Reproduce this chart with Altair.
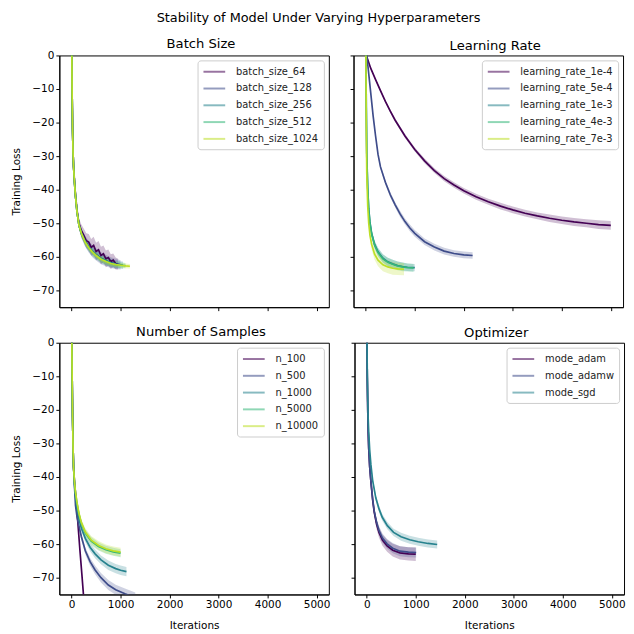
import altair as alt
import pandas as pd

COLORS = ["#440154", "#3e4c8a", "#26828e", "#35b779", "#bddf26"]
X_TICKS = [0, 1000, 2000, 3000, 4000, 5000]
Y_TICKS = [-70, -60, -50, -40, -30, -20, -10, 0]

# ---------------- Batch Size ----------------
BS_NAMES = ["batch_size_64", "batch_size_128", "batch_size_256", "batch_size_512", "batch_size_1024"]
BS64_IT = [0, 10, 20, 30, 40, 60, 80, 110, 150, 200, 250, 300, 350, 400, 450, 500, 550, 600, 650, 700, 750, 800, 850, 900, 950]
BS64_LOSS = [15, -10, -22, -29, -33, -37.5, -41.5, -46, -50, -52.2, -53.6, -55.2, -55.6, -57.2, -56.6, -58.4, -57.9, -59.6, -59.1, -60.6, -60.2, -61.4, -61.0, -62.0, -62.2]
BS64_SPREAD = [0, 0, 0.3, 0.4, 0.5, 0.8, 1, 1.2, 1.5, 1.8, 2, 2.2, 2.4, 2.5, 2.6, 2.6, 2.6, 2.6, 2.5, 2.5, 2.4, 2.2, 2, 1.8, 1.6]
BS128_IT = [0, 10, 20, 30, 40, 60, 80, 110, 150, 200, 275, 350, 425, 500, 600, 700, 800, 900, 1000]
BS128_LOSS = [15, -10, -22, -29, -33, -38, -42, -46.5, -50.5, -53, -55.3, -57, -58.3, -59.3, -60.4, -61.1, -61.7, -62.1, -62.4]
BS128_SPREAD = [0, 0, 0.3, 0.3, 0.5, 0.6, 0.8, 1, 1.2, 1.4, 1.6, 1.7, 1.8, 1.8, 1.8, 1.7, 1.6, 1.5, 1.4]
BS256_IT = [0, 10, 20, 30, 40, 60, 80, 110, 150, 200, 275, 350, 425, 500, 600, 700, 800, 900, 1000, 1050]
BS256_LOSS = [15, -10, -22, -29, -33, -38, -42, -46.5, -50.5, -53, -55.4, -57.1, -58.4, -59.4, -60.5, -61.2, -61.8, -62.2, -62.4, -62.5]
BS256_SPREAD = [0, 0, 0.3, 0.3, 0.5, 0.6, 0.7, 0.9, 1, 1.2, 1.3, 1.4, 1.4, 1.4, 1.3, 1.3, 1.2, 1.2, 1.1, 1.1]
BS512_IT = [0, 10, 20, 30, 40, 60, 80, 110, 150, 200, 275, 350, 425, 500, 600, 700, 800, 900, 1000, 1100]
BS512_LOSS = [15, -10, -22, -29, -33, -38, -42, -46.5, -50.5, -53, -55.5, -57.2, -58.5, -59.5, -60.6, -61.3, -61.9, -62.3, -62.5, -62.6]
BS512_SPREAD = [0, 0, 0.3, 0.3, 0.4, 0.5, 0.6, 0.8, 0.9, 1, 1, 1, 1, 1, 1, 1, 0.9, 0.9, 0.9, 0.8]
BS1024_IT = [0, 10, 20, 30, 40, 60, 80, 110, 150, 200, 275, 350, 425, 500, 600, 700, 800, 900, 1000, 1100, 1190]
BS1024_LOSS = [15, -10, -22, -29, -33, -38, -42, -46.5, -50.5, -53, -55.6, -57.3, -58.6, -59.6, -60.7, -61.4, -62, -62.3, -62.5, -62.7, -62.8]
BS1024_SPREAD = [0, 0, 0.3, 0.3, 0.4, 0.5, 0.6, 0.7, 0.8, 0.8, 0.8, 0.8, 0.8, 0.8, 0.8, 0.8, 0.7, 0.7, 0.7, 0.7, 0.7]

# ---------------- Learning Rate ----------------
LR_NAMES = ["learning_rate_1e-4", "learning_rate_5e-4", "learning_rate_1e-3", "learning_rate_4e-3", "learning_rate_7e-3"]
LR1_IT = [0, 100, 200, 300, 400, 500, 600, 800, 1000, 1200, 1400, 1600, 1800, 2000, 2250, 2500, 2750, 3000, 3250, 3500, 3750, 4000, 4250, 4500, 4750, 5000]
LR1_LOSS = [0.5, -3.8, -7.2, -10.5, -13.7, -16.6, -19.3, -24.0, -28.0, -31.4, -34.3, -36.7, -38.6, -40.3, -42.1, -43.6, -44.9, -46.0, -47.0, -47.8, -48.5, -49.1, -49.6, -50.0, -50.4, -50.6]
LR1_SPREAD = [0, 0.3, 0.3, 0.4, 0.4, 0.5, 0.5, 0.6, 0.6, 0.7, 0.7, 0.8, 0.8, 0.8, 0.9, 0.9, 1, 1, 1, 1, 1.1, 1.1, 1.2, 1.2, 1.3, 1.3]
LR2_IT = [0, 50, 100, 150, 200, 250, 300, 400, 500, 600, 700, 800, 900, 1000, 1200, 1400, 1600, 1800, 2000, 2180]
LR2_LOSS = [3, -4, -11, -18, -24, -29.5, -33.2, -37.8, -41.5, -44.5, -47.2, -49.5, -51.4, -53, -55.5, -57.1, -58.3, -59, -59.4, -59.6]
LR2_SPREAD = [0, 0.2, 0.3, 0.4, 0.5, 0.5, 0.6, 0.7, 0.8, 0.8, 0.9, 0.9, 1, 1, 1, 1, 1, 1, 1, 1]
LR3_IT = [0, 10, 20, 40, 60, 85, 120, 180, 250, 350, 450, 550, 650, 750, 850, 1000]
LR3_LOSS = [10, -15, -29, -39.5, -45.5, -49.6, -53, -56.3, -58.5, -60.4, -61.5, -62.1, -62.6, -62.9, -63.1, -63.2]
LR3_SPREAD = [0, 0, 0.3, 0.5, 0.8, 1, 1, 1.1, 1.2, 1.2, 1.2, 1.2, 1.2, 1.2, 1.1, 1.1]
LR4_IT = [0, 10, 20, 40, 60, 85, 120, 180, 250, 350, 450, 550, 650, 750, 850, 975]
LR4_LOSS = [10, -15, -30, -40, -46, -50, -53.2, -56.5, -58.7, -60.6, -61.6, -62.2, -62.7, -63, -63.2, -63.3]
LR4_SPREAD = [0, 0, 0.3, 0.5, 0.8, 1, 1, 1.2, 1.2, 1.3, 1.3, 1.3, 1.3, 1.3, 1.2, 1.2]
LR5_IT = [0, 10, 20, 40, 60, 85, 120, 180, 250, 350, 450, 550, 650, 780]
LR5_LOSS = [10, -20, -35, -45, -50, -53.5, -56.3, -59.2, -61, -62.4, -63, -63.4, -63.6, -63.7]
LR5_SPREAD = [0, 0, 0.4, 0.8, 1, 1.3, 1.5, 1.7, 1.8, 1.9, 1.9, 1.9, 1.8, 1.8]

# ---------------- Number of Samples ----------------
NS_NAMES = ["n_100", "n_500", "n_1000", "n_5000", "n_10000"]
NS1_IT = [0, 10, 20, 30, 40, 60, 90, 130, 170, 210, 250, 300, 350]
NS1_LOSS = [10, -8, -22, -31, -37, -41.5, -46.5, -54, -61.8, -69, -76.5, -85.5, -95]
NS1_SPREAD = [0, 0, 0.3, 0.4, 0.5, 0.5, 0.6, 0.6, 0.6, 0.6, 0.6, 0.6, 0.6]
NS2_IT = [0, 10, 20, 30, 40, 60, 80, 110, 150, 200, 280, 380, 480, 600, 750, 900, 1090, 1300]
NS2_LOSS = [10, -8, -22, -31, -37, -43, -48.5, -51.8, -54.6, -57.8, -62, -65.3, -67.7, -70, -72.2, -73.6, -74.8, -76]
NS2_SPREAD = [0, 0, 0.3, 0.4, 0.5, 0.6, 0.7, 0.8, 0.9, 1, 1.1, 1.2, 1.3, 1.4, 1.5, 1.5, 1.6, 1.6]
NS3_IT = [0, 10, 20, 30, 40, 60, 80, 110, 150, 200, 280, 380, 480, 600, 750, 900, 1000, 1120]
NS3_LOSS = [10, -8, -22, -31, -37, -42.5, -46, -49.3, -52.5, -55.3, -58.3, -61, -62.9, -64.7, -66.3, -67.3, -67.8, -68.2]
NS3_SPREAD = [0, 0, 0.3, 0.4, 0.5, 0.6, 0.7, 0.8, 0.9, 1, 1.1, 1.2, 1.3, 1.3, 1.4, 1.4, 1.4, 1.4]
NS4_IT = [0, 10, 20, 30, 40, 60, 80, 110, 150, 200, 280, 400, 550, 700, 850, 1000]
NS4_LOSS = [10, -8, -22, -31, -37, -41.8, -44.8, -47.8, -51.1, -53.9, -56.7, -59.1, -60.7, -61.7, -62.3, -62.7]
NS4_SPREAD = [0, 0, 0.3, 0.4, 0.5, 0.6, 0.7, 0.8, 0.9, 1, 1.1, 1.2, 1.2, 1.2, 1.2, 1.2]
NS5_IT = [0, 10, 20, 30, 40, 60, 80, 110, 150, 200, 280, 400, 550, 700, 850, 1000]
NS5_LOSS = [10, -8, -22, -31, -37, -41.5, -44.5, -47.5, -50.8, -53.6, -56.4, -58.8, -60.4, -61.4, -62, -62.4]
NS5_SPREAD = [0, 0, 0.3, 0.4, 0.5, 0.6, 0.7, 0.8, 0.9, 1, 1.1, 1.2, 1.3, 1.3, 1.3, 1.3]

# ---------------- Optimizer ----------------
OP_NAMES = ["mode_adam", "mode_adamw", "mode_sgd"]
OP1_IT = [0, 10, 20, 30, 40, 60, 85, 120, 152, 200, 250, 320, 415, 530, 678, 850, 1000]
OP1_LOSS = [10, -10, -20, -27, -31.5, -37, -41.5, -46.8, -50.5, -54, -56.5, -58.8, -60.5, -61.8, -62.6, -62.9, -63]
OP1_SPREAD = [0, 0, 0.3, 0.4, 0.5, 0.7, 0.9, 1.1, 1.3, 1.5, 1.6, 1.7, 1.8, 1.9, 2, 2, 2]
OP2_IT = [0, 10, 20, 30, 40, 60, 85, 120, 152, 200, 250, 320, 415, 530, 678, 850, 1008]
OP2_LOSS = [10, -10, -20, -27, -31.5, -37, -41.3, -46.5, -50.1, -53.5, -56, -58.2, -59.9, -61.2, -62.1, -62.4, -62.5]
OP2_SPREAD = [0, 0, 0.3, 0.4, 0.5, 0.6, 0.8, 1, 1.1, 1.2, 1.3, 1.4, 1.4, 1.5, 1.5, 1.5, 1.5]
OP3_IT = [0, 10, 20, 30, 40, 60, 85, 120, 184, 250, 316, 420, 547, 700, 876, 1050, 1250, 1437]
OP3_LOSS = [10, -8, -17, -23, -26.6, -32, -36.4, -41, -46.2, -49.5, -52, -54.5, -56.5, -57.8, -58.7, -59.3, -59.8, -60.1]
OP3_SPREAD = [0, 0, 0.3, 0.4, 0.5, 0.6, 0.7, 0.8, 0.9, 1, 1, 1.1, 1.1, 1.2, 1.2, 1.2, 1.2, 1.2]


def build(names, series):
    rows = []
    for order, (name, (its, loss, spread)) in enumerate(zip(names, series)):
        for i, v, s in zip(its, loss, spread):
            rows.append({"series": name, "order": order, "it": i, "loss": v,
                         "lo": v - s, "hi": v + s})
    return pd.DataFrame(rows)


def panel(title, names, series, left, bottom):
    df = build(names, series)
    color = alt.Color(
        "series:N",
        sort=names,
        scale=alt.Scale(domain=names, range=COLORS[:len(names)]),
        legend=alt.Legend(
            title=None, orient="top-right", offset=5, padding=5,
            strokeColor="#cccccc", fillColor="white", cornerRadius=3,
            labelFontSize=10, labelColor="#222222",
            symbolType="M-1,0H3", symbolSize=121, symbolStrokeWidth=2,
            symbolOpacity=0.55, labelOffset=21, rowPadding=5,
        ),
    )
    x = alt.X(
        "it:Q",
        scale=alt.Scale(domain=[-250, 5250], nice=False, zero=False),
        axis=alt.Axis(values=X_TICKS, labels=bottom, format="d",
                      title="Iterations" if bottom else None, titlePadding=10),
    )
    yaxis = alt.Axis(values=Y_TICKS, labels=left, title="Training Loss" if left else None,
                     titlePadding=10)
    yscale = alt.Scale(domain=[-75, 0], nice=False, zero=False)
    band = alt.Chart(df).mark_area(opacity=0.25, clip=True).encode(
        x=x,
        y=alt.Y("lo:Q", scale=yscale, axis=yaxis),
        y2="hi:Q",
        color=color,
        order="order:Q",
    )
    line = alt.Chart(df).mark_line(clip=True, strokeWidth=1.7).encode(
        x=x,
        y=alt.Y("loss:Q", scale=yscale, axis=yaxis),
        color=color,
    )
    return alt.layer(band, line).properties(
        width=273, height=255,
        title=alt.TitleParams(title, fontSize=13.3, fontWeight="normal",
                              offset=0 if left else 3, dx=7,
                              frame="group", anchor="middle"),
    )


p1 = panel("Batch Size", BS_NAMES, [
    (BS64_IT, BS64_LOSS, BS64_SPREAD), (BS128_IT, BS128_LOSS, BS128_SPREAD),
    (BS256_IT, BS256_LOSS, BS256_SPREAD), (BS512_IT, BS512_LOSS, BS512_SPREAD),
    (BS1024_IT, BS1024_LOSS, BS1024_SPREAD)], True, False)
p2 = panel("Learning Rate", LR_NAMES, [
    (LR1_IT, LR1_LOSS, LR1_SPREAD), (LR2_IT, LR2_LOSS, LR2_SPREAD),
    (LR3_IT, LR3_LOSS, LR3_SPREAD), (LR4_IT, LR4_LOSS, LR4_SPREAD),
    (LR5_IT, LR5_LOSS, LR5_SPREAD)], False, False)
p3 = panel("Number of Samples", NS_NAMES, [
    (NS1_IT, NS1_LOSS, NS1_SPREAD), (NS2_IT, NS2_LOSS, NS2_SPREAD),
    (NS3_IT, NS3_LOSS, NS3_SPREAD), (NS4_IT, NS4_LOSS, NS4_SPREAD),
    (NS5_IT, NS5_LOSS, NS5_SPREAD)], True, True)
p4 = panel("Optimizer", OP_NAMES, [
    (OP1_IT, OP1_LOSS, OP1_SPREAD), (OP2_IT, OP2_LOSS, OP2_SPREAD),
    (OP3_IT, OP3_LOSS, OP3_SPREAD)], False, True)

top = alt.hconcat(p1, p2, spacing=19).resolve_scale(color="independent")
bottom = alt.hconcat(p3, p4, spacing=19).resolve_scale(color="independent")

chart = alt.vconcat(top, bottom, spacing=12).resolve_scale(color="independent").properties(
    title=alt.TitleParams("Stability of Model Under Varying Hyperparameters",
                          fontSize=13, fontWeight="normal", anchor="middle", offset=12),
    padding={"left": 3, "top": 0, "right": 0, "bottom": 0},
).configure(
    font="DejaVu Sans",
).configure_view(
    stroke="black", strokeWidth=1,
).configure_axis(
    grid=False, domainColor="black", tickColor="black", labelColor="black",
    titleColor="black", labelFontSize=10.6, titleFontSize=10.6, titleFontWeight="normal",
    tickSize=3.5, labelPadding=2,
).configure_title(color="black")

chart.save("out.html", embed_options={"renderer": "svg", "actions": False})
